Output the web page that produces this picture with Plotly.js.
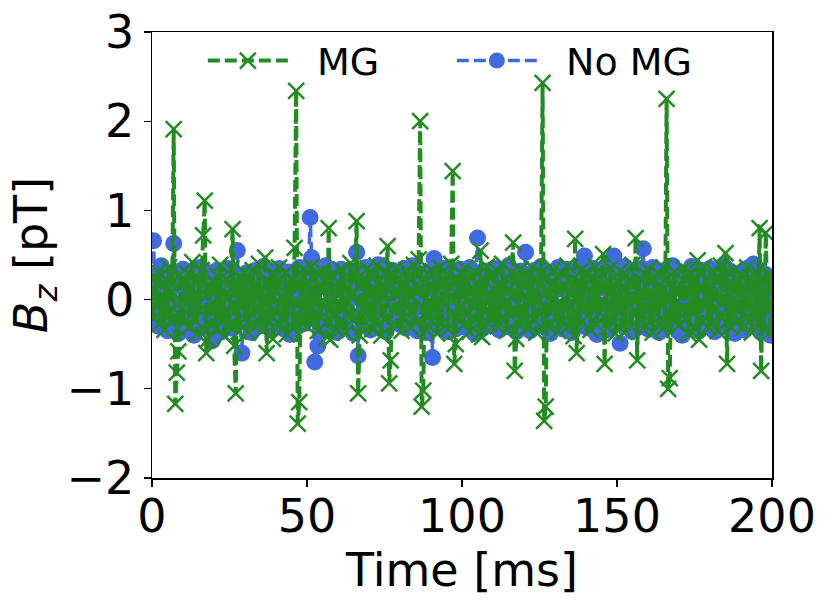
<!DOCTYPE html>
<html>
<head>
<meta charset="utf-8">
<script src="https://cdn.plot.ly/plotly-3.0.1.min.js"></script>
<style>html,body{margin:0;padding:0;background:#fff;}#chart{width:831px;height:605px;}</style>
</head>
<body>
<div id="chart"></div>
<script>
// Sampling: t0 = 0 ms, step 0.5 ms (401 samples, 0..200 ms)
const sampleStartMs = 0;
const sampleStepMs = 0.5;

const seriesNames = ["MG", "No MG"];

const bzMG = [
0.12,-0.21,0.25,-0.08,0.31,-0.27,0.05,0.19,-0.34,0.22,-0.15,0.36,-0.24,0.09,1.91,-1.17,-0.82,-0.58,0.28,-0.19,
-0.26,0.18,-0.05,0.29,-0.31,0.14,0.42,-0.22,0.07,-0.38,0.24,-0.12,0.33,0.72,1.11,-0.6,-0.45,0.16,-0.29,0.21,
0.08,-0.33,0.27,-0.17,0.39,-0.24,0.11,-0.41,0.23,0.02,-0.28,0.35,0.79,-0.52,-1.05,0.18,-0.36,0.26,-0.09,0.31,
-0.22,0.14,-0.37,0.25,-0.06,0.33,-0.29,0.17,-0.13,0.4,-0.25,0.09,-0.34,0.47,-0.6,0.21,-0.18,0.28,-0.44,0.12,
0.26,-0.15,0.36,-0.28,0.04,-0.21,0.3,-0.39,0.18,-0.07,0.24,-0.32,0.58,2.34,-1.39,-1.15,0.22,-0.26,0.34,-0.11,
-0.3,0.19,-0.12,0.37,-0.24,0.06,0.29,-0.35,0.15,-0.2,0.32,-0.08,0.23,-0.42,0.8,-0.45,0.27,-0.16,0.11,-0.33,
0.2,-0.27,0.34,-0.1,0.25,-0.37,0.13,-0.19,0.41,-0.23,0.07,0.3,0.88,-1.05,-0.4,0.18,-0.3,0.24,-0.14,0.35,
-0.18,0.28,-0.33,0.1,-0.25,0.38,-0.05,0.21,-0.4,0.16,-0.22,0.31,0.6,-0.94,-0.68,0.26,-0.12,0.35,-0.29,0.08,
0.23,-0.35,0.14,-0.2,0.33,-0.09,0.27,-0.31,0.04,0.39,-0.26,0.17,0.45,2.0,-1.2,-1.02,0.2,-0.34,0.29,-0.15,
-0.24,0.32,-0.13,0.22,-0.38,0.11,0.36,-0.27,0.19,-0.06,0.28,-0.33,0.15,0.4,1.44,-0.72,-0.5,0.24,-0.2,0.3,
0.09,-0.29,0.35,-0.17,0.26,-0.36,0.13,-0.08,0.31,-0.23,0.18,-0.39,0.55,-0.42,0.22,-0.14,0.37,-0.27,0.06,-0.2,
0.27,-0.12,0.33,-0.3,0.16,-0.21,0.4,-0.07,0.24,-0.35,0.12,-0.18,0.3,0.64,-0.8,-0.44,0.21,-0.28,0.34,-0.1,
-0.25,0.19,-0.32,0.28,-0.04,0.36,-0.22,0.11,-0.37,0.23,-0.16,0.3,2.43,-1.36,-1.2,0.25,-0.3,0.15,-0.11,0.34,
-0.2,0.26,-0.35,0.08,0.31,-0.24,0.17,-0.13,0.38,-0.29,0.05,0.22,-0.41,0.68,-0.6,0.19,-0.27,0.33,-0.09,0.14,
0.3,-0.19,0.12,-0.34,0.25,-0.06,0.37,-0.28,0.2,-0.15,0.29,0.51,-0.72,0.18,-0.31,0.07,0.35,-0.23,0.13,-0.38,
0.21,-0.1,0.32,-0.26,0.15,-0.36,0.27,-0.05,0.19,-0.3,0.39,-0.17,0.69,-0.68,0.24,-0.21,0.1,-0.33,0.28,-0.12,
0.34,-0.24,0.08,-0.37,0.22,-0.14,0.3,-0.27,0.16,-0.05,0.36,-0.3,2.25,-1.0,-0.88,0.2,-0.18,0.31,-0.25,0.11,
-0.29,0.17,-0.11,0.35,-0.22,0.26,-0.38,0.09,0.29,-0.16,0.23,-0.33,0.44,-0.45,0.14,-0.25,0.37,-0.08,0.21,-0.31,
0.16,-0.27,0.32,-0.13,0.24,-0.35,0.06,0.38,-0.2,0.27,0.52,-0.72,0.19,-0.3,0.11,-0.17,0.34,-0.26,0.2,-0.07,
0.28,-0.32,0.13,-0.21,0.36,-0.1,0.25,-0.37,0.18,-0.15,0.31,-0.26,0.8,-0.8,0.22,-0.34,0.75,-0.12,0.27,-0.36,
0.15
];

const bzNoMG = [
0.21,0.66,-0.18,0.27,-0.3,0.12,0.38,-0.24,0.05,0.31,-0.35,0.18,-0.09,0.26,0.63,-0.28,0.15,-0.38,0.22,-0.12,
0.34,-0.21,0.08,-0.33,0.25,-0.14,0.29,-0.4,0.17,0.02,-0.26,0.36,-0.19,0.13,-0.31,0.24,-0.07,0.3,0.1,-0.46,
0.19,-0.27,0.33,-0.11,0.22,-0.36,0.06,0.28,-0.2,0.35,-0.15,0.1,-0.32,0.25,-0.05,0.55,0.12,-0.25,-0.6,0.2,
-0.22,0.3,-0.13,0.24,-0.37,0.15,-0.04,0.33,-0.28,0.09,0.26,-0.19,0.37,-0.3,0.14,-0.1,0.29,-0.34,0.2,-0.16,
0.27,-0.08,0.35,-0.26,0.11,-0.33,0.23,-0.17,0.31,-0.39,0.04,0.28,-0.22,0.16,-0.3,0.36,-0.12,0.21,-0.27,0.1,
-0.2,0.25,0.92,0.47,-0.1,-0.7,0.14,-0.52,0.3,-0.18,0.22,-0.35,0.38,-0.06,0.18,-0.29,0.33,-0.14,0.26,-0.37,
0.12,-0.24,0.34,-0.09,0.2,-0.31,0.27,-0.16,0.07,0.32,-0.38,0.18,0.53,-0.63,0.1,-0.21,0.29,-0.12,0.36,-0.27,
0.15,-0.34,0.24,-0.05,0.31,-0.22,0.39,-0.13,0.2,-0.3,0.08,-0.36,0.27,-0.18,0.12,0.33,-0.25,0.18,-0.08,0.3,
-0.28,0.22,-0.14,0.35,-0.32,0.06,0.26,-0.2,0.38,-0.11,0.17,-0.35,0.29,-0.04,0.23,-0.27,0.13,-0.37,0.31,-0.17,
0.2,-0.65,0.46,-0.12,0.28,-0.3,0.16,-0.23,0.35,-0.07,0.24,-0.36,0.11,0.3,-0.19,0.25,-0.33,0.09,-0.26,0.34,
-0.15,0.27,-0.31,0.18,-0.06,0.36,-0.24,0.12,-0.38,0.3,0.69,-0.2,0.23,-0.33,0.08,0.32,-0.17,0.26,-0.29,0.14,
-0.23,0.35,-0.1,0.21,-0.34,0.16,-0.27,0.3,0.04,-0.19,0.38,-0.31,0.13,-0.08,0.25,-0.36,0.19,-0.14,0.32,-0.25,
0.1,0.53,-0.22,0.28,-0.35,0.14,-0.05,0.33,-0.26,0.2,-0.13,0.37,-0.3,0.07,0.24,-0.2,0.31,-0.38,0.17,-0.09,
0.29,-0.18,0.36,-0.27,0.12,-0.33,0.22,-0.06,0.34,-0.24,0.15,-0.37,0.26,-0.11,0.3,-0.21,0.08,0.38,-0.3,0.49,
-0.16,0.23,-0.32,0.1,0.35,-0.25,0.18,-0.39,0.27,-0.08,0.31,-0.2,0.13,-0.34,0.4,-0.12,0.24,-0.29,0.49,0.05,
0.3,-0.2,-0.49,0.26,-0.14,0.37,-0.28,0.15,-0.05,0.33,-0.36,0.21,-0.1,0.28,-0.31,0.09,0.35,0.57,-0.22,0.18,
-0.33,0.25,-0.12,0.36,-0.24,0.07,0.31,-0.37,0.19,-0.16,0.28,-0.08,0.34,-0.29,0.14,-0.21,0.38,-0.11,0.22,-0.35,
0.16,-0.26,-0.4,0.3,-0.15,0.24,-0.32,0.11,0.37,-0.19,0.27,-0.07,0.2,-0.35,0.33,-0.23,0.1,-0.3,0.26,-0.13,
0.35,-0.22,0.18,-0.36,0.06,0.29,-0.27,0.21,-0.12,0.38,-0.31,0.15,-0.04,0.32,-0.25,0.23,-0.38,0.12,0.27,-0.18,
-0.09,0.31,-0.34,0.17,-0.23,0.36,-0.14,0.25,0.4,-0.3,0.08,-0.2,0.33,-0.37,0.19,-0.11,0.28,-0.26,0.14,-0.4,
0.22
];

const xTickVals = [0, 50, 100, 150, 200];
const yTickVals = [-2, -1, 0, 1, 2, 3];
const yTickText = ["\u22122", "\u22121", "0", "1", "2", "3"];

const FONT = "DejaVu Sans, sans-serif";
const LEGEND_PAD = "\u00A0\u00A0";

const traceNoMG = {
  type: "scatter", mode: "lines+markers", name: LEGEND_PAD + seriesNames[1],
  x0: sampleStartMs, dx: sampleStepMs, y: bzNoMG,
  line: {color: "#4169E1", width: 3.5, dash: "12px,5px"},
  marker: {symbol: "circle", size: 17, color: "#4169E1"},
  legendrank: 2
};
const traceMG = {
  type: "scatter", mode: "lines+markers", name: LEGEND_PAD + seriesNames[0],
  x0: sampleStartMs, dx: sampleStepMs, y: bzMG,
  line: {color: "#228B22", width: 4, dash: "12px,5px"},
  marker: {symbol: "x-thin", size: 16, color: "#228B22", line: {color: "#228B22", width: 2.5}},
  legendrank: 1
};

const layout = {
  width: 831, height: 605,
  margin: {l: 152, r: 59, t: 32, b: 127},
  paper_bgcolor: "#fff", plot_bgcolor: "#fff",
  font: {family: FONT, size: 46, color: "#000"},
  showlegend: true,
  legend: {
    orientation: "h", x: 0.082, xanchor: "left", y: 1.006, yanchor: "top",
    bgcolor: "rgba(0,0,0,0)", font: {family: FONT, size: 38, color: "#000"},
    itemwidth: 80, entrywidth: 154, entrywidthmode: "pixels", traceorder: "normal"
  },
  xaxis: {
    range: [0, 200], tickvals: xTickVals, ticks: "outside", ticklen: 7, tickwidth: 1.3,
    tickcolor: "#000", showline: true, linecolor: "#000", linewidth: 1.5, mirror: true,
    showgrid: false, zeroline: false, tickfont: {family: FONT, size: 46, color: "#000"},
    ticklabelstandoff: -10,
    title: {text: "Time [ms]", font: {family: FONT, size: 46, color: "#000"}, standoff: 0}
  },
  yaxis: {
    range: [-2, 3], tickvals: yTickVals, ticktext: yTickText, ticks: "outside", ticklen: 7, tickwidth: 1.3,
    tickcolor: "#000", showline: true, linecolor: "#000", linewidth: 1.5, mirror: true,
    showgrid: false, zeroline: false, tickfont: {family: FONT, size: 46, color: "#000"},
    title: {text: "<i>B</i><sub><i>z</i></sub> [pT]", font: {family: FONT, size: 46, color: "#000"}, standoff: 4}
  }
};

Plotly.newPlot("chart", [traceNoMG, traceMG], layout, {staticPlot: true, displayModeBar: false});
</script>
</body>
</html>
